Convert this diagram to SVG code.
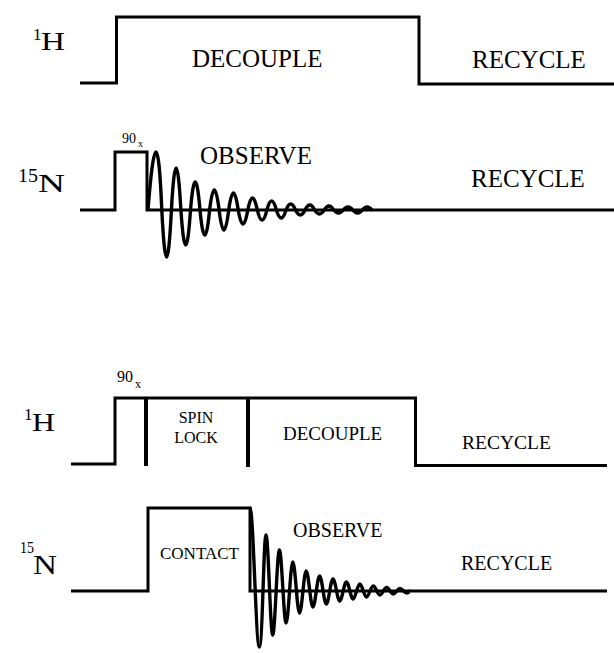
<svg xmlns="http://www.w3.org/2000/svg" width="614" height="653" viewBox="0 0 614 653">
<style>
.w{fill:none;stroke:#000;stroke-width:3;stroke-linejoin:miter;stroke-linecap:butt}
.fid{fill:none;stroke:#000;stroke-width:3.4;stroke-linejoin:round}
.sep{stroke:#000;stroke-width:4}
</style>
<rect width="614" height="653" fill="#fff"/>

<g font-family="'Liberation Serif', 'Times New Roman', 'DejaVu Serif', serif" fill="#000">
<g id="top-1H">
<path class="w" d="M80,83 H116.5 V17 H419 V84 H614"/>
<text x="33" y="40" font-size="17">1</text>
<text x="41" y="50" font-size="25" textLength="24" lengthAdjust="spacingAndGlyphs">H</text>
<text x="192" y="67" font-size="25">DECOUPLE</text>
<text x="472" y="68" font-size="25">RECYCLE</text>
</g>

<g id="top-15N">
<path class="w" d="M80,210 H115 V152 H147 V210 H614"/>
<path class="fid" d="M148,210 Q157,94 161.8,210 Q166.6,304 171.4,210 Q176.1,126 180.9,210 Q185.7,280 190.5,210 Q195.2,154 200,210 Q204.8,260 209.6,210 Q214.3,170 219.1,210 Q223.9,250 228.7,210 Q233.4,176 238.2,210 Q243,238 247.8,210 Q252.5,186 257.3,210 Q262.1,230 266.9,210 Q271.6,192 276.4,210 Q281.2,226 286,210 Q290.7,198 295.5,210 Q300.3,220 305.1,210 Q309.8,200 314.6,210 Q319.4,218 324.2,210 Q328.9,202 333.7,210 Q338.5,216 343.3,210 Q348,204 352.8,210 Q357.6,216 362.4,210 Q367.1,204 371.9,210"/>
<text x="18" y="182" font-size="18" textLength="20" lengthAdjust="spacingAndGlyphs">15</text>
<text x="38" y="192" font-size="25" textLength="27" lengthAdjust="spacingAndGlyphs">N</text>
<text x="122" y="143" font-size="14">90</text>
<text x="138" y="147" font-size="10">x</text>
<text x="200" y="164" font-size="25">OBSERVE</text>
<text x="471" y="187" font-size="25">RECYCLE</text>
</g>

<g id="bottom-1H">
<path class="w" d="M71,464 H115 V398 H415.5 V465.5 H607"/>
<line class="sep" x1="146" y1="398" x2="146" y2="466"/>
<line class="sep" x1="248" y1="398" x2="248" y2="467"/>
<text x="24" y="420" font-size="17">1</text>
<text x="32" y="431" font-size="26" textLength="23" lengthAdjust="spacingAndGlyphs">H</text>
<text x="117" y="382" font-size="16">90</text>
<text x="135" y="388" font-size="12">x</text>
<text x="196" y="423" font-size="16" text-anchor="middle">SPIN</text>
<text x="196" y="443" font-size="16" text-anchor="middle">LOCK</text>
<text x="283" y="440" font-size="19">DECOUPLE</text>
<text x="462" y="449" font-size="19.5">RECYCLE</text>
</g>

<g id="bottom-15N">
<path class="w" d="M71,591 H148 V508 H250 V591 H607"/>
<path class="fid" d="M250,508 C253.3,508 256,647 259.3,647 S263.6,535 266,535 S270.3,635 272.7,635 S277,550 279.4,550 S283.7,623 286.1,623 S290.4,562 292.8,562 S297.1,613 299.5,613 S303.8,571 306.2,571 S310.5,607 312.9,607 S317.2,576 319.6,576 S323.9,604 326.3,604 S330.6,579 333,579 S337.3,601 339.7,601 S344,582 346.4,582 S350.7,599 353.1,599 S357.4,584 359.8,584 S364.1,597 366.5,597 S370.8,586 373.2,586 S377.5,595 379.9,595 S384.2,587.5 386.6,587.5 S390.9,594 393.3,594 S397.6,588.5 400,588.5 S404.3,593 406.7,593 S409,591 410,591"/>
<text x="20" y="553" font-size="17" textLength="14" lengthAdjust="spacingAndGlyphs">15</text>
<text x="33" y="574" font-size="27" textLength="24" lengthAdjust="spacingAndGlyphs">N</text>
<text x="160" y="559" font-size="17">CONTACT</text>
<text x="293" y="537" font-size="20">OBSERVE</text>
<text x="461" y="570" font-size="20">RECYCLE</text>
</g>
</g>
</svg>
